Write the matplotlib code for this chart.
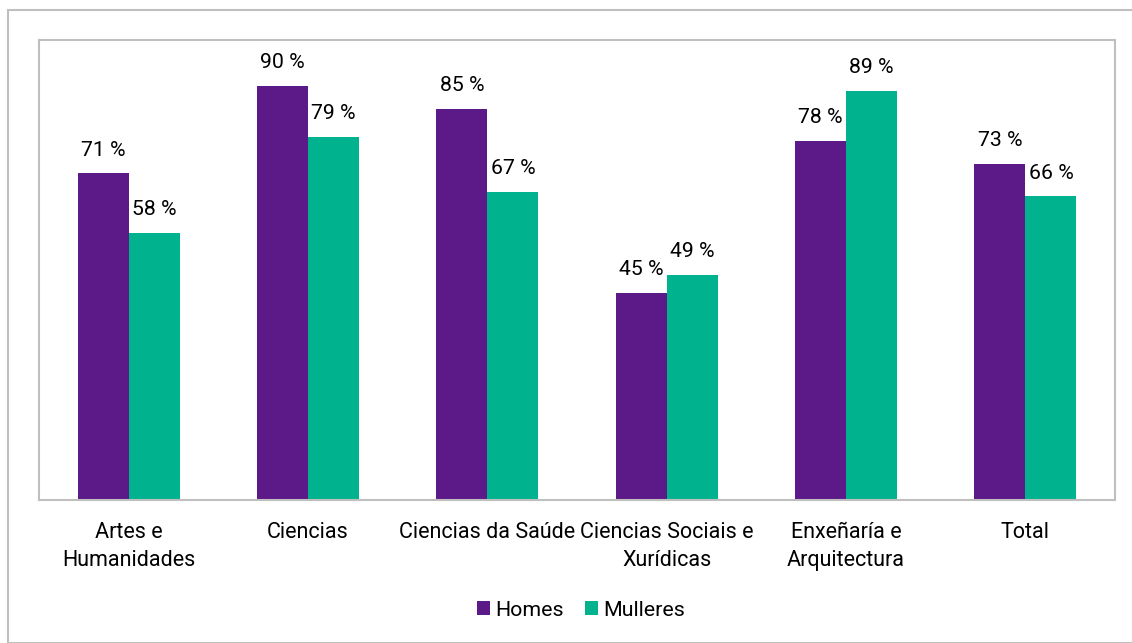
import matplotlib.pyplot as plt
import numpy as np
from matplotlib.patches import Rectangle

# Datos: porcentaxe por rama de coñecemento
ramas = ["Artes e\nHumanidades", "Ciencias", "Ciencias da Saúde",
         "Ciencias Sociais e\nXurídicas", "Enxeñaría e\nArquitectura", "Total"]
homes = [71, 90, 85, 45, 78, 73]
mulleres = [58, 79, 67, 49, 89, 66]

cor_homes = "#5B1A87"
cor_mulleres = "#00B38E"
cor_borde = "#BFBFBF"

plt.rcParams["font.family"] = ["Roboto", "DejaVu Sans"]

fig = plt.figure(figsize=(11.32, 6.43), dpi=100)
W, H = 1132, 643

# marco exterior do gráfico
fig.patches.append(Rectangle((8 / W, 0), 1.2, 1 - 9.5 / H, transform=fig.transFigure,
                             fill=False, edgecolor=cor_borde, linewidth=1.5))

ax = fig.add_axes([39 / W, 1 - 500 / H, (1115 - 39) / W, (500 - 40) / H])

x = np.arange(len(ramas))
ancho = 0.285
b1 = ax.bar(x - ancho / 2, homes, ancho, color=cor_homes, label="Homes")
b2 = ax.bar(x + ancho / 2, mulleres, ancho, color=cor_mulleres, label="Mulleres")

for barras in (b1, b2):
    for b in barras:
        ax.annotate(f"{b.get_height():.0f} %",
                    (b.get_x() + b.get_width() / 2, b.get_height()),
                    xytext=(0, 10), textcoords="offset points",
                    ha="center", va="bottom", fontsize=15.3)

ax.set_xlim(-0.5, len(ramas) - 0.5)
ax.set_ylim(0, 100)
ax.set_yticks([])
ax.set_xticks(x)
ax.set_xticklabels(ramas, fontsize=15.5, linespacing=1.45)
ax.tick_params(axis="x", length=0, pad=16)
for s in ax.spines.values():
    s.set_edgecolor(cor_borde)
    s.set_linewidth(1.5)

fig.legend(loc="center", bbox_to_anchor=(581 / W, 1 - 610 / H), ncol=2,
           frameon=False, fontsize=15.4, handlelength=0.6, handleheight=0.6,
           handletextpad=0.25, columnspacing=1.0)

fig.savefig("out.png", dpi=100)
